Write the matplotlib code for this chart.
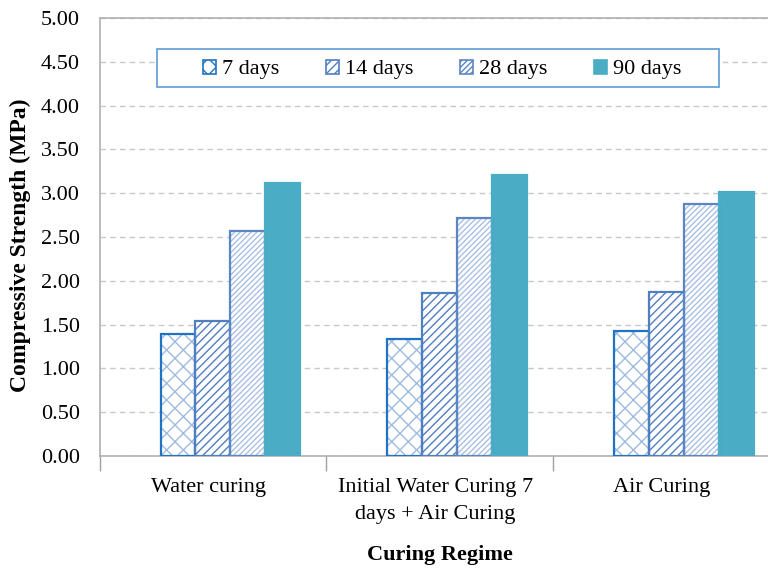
import matplotlib
matplotlib.use("Agg")
import matplotlib.pyplot as plt
from matplotlib.patches import Patch, Rectangle
import numpy as np

# curing regimes and strength at each age (MPa)
regimes = ["Water curing", "Initial Water Curing 7\ndays + Air Curing", "Air Curing"]
ages = ["7 days", "14 days", "28 days", "90 days"]
s7 = [1.39, 1.34, 1.43]
s14 = [1.54, 1.86, 1.87]
s28 = [2.57, 2.72, 2.88]
s90 = [3.12, 3.21, 3.01]
yticks = [0.0, 0.5, 1.0, 1.5, 2.0, 2.5, 3.0, 3.5, 4.0, 4.5, 5.0]

plt.rcParams['font.family'] = ['Liberation Serif', 'DejaVu Serif']
plt.rcParams['hatch.linewidth'] = 1.0

W, H = 768, 572
fig = plt.figure(figsize=(W / 100, H / 100), dpi=100)
# plot area runs past the right edge of the picture like the original
ax = fig.add_axes([99.5 / W, (H - 456) / H, (780 - 99.5) / W, (456 - 18) / H])

x = np.arange(len(regimes))
w = 0.154
# (values, offset, face, hatch, hatch colour, outline colour)
series = [
    (s7, -1, "white", "xx", "#9DBBE3", "#1F73C2"),
    (s14, 0, "white", "////", "#4F7FC0", "#4F7FC0"),
    (s28, 1, "white", "//////", "#A9C0E3", "#5B86C3"),
    (s90, 2, "#4BACC6", None, "#4BACC6", "#4BACC6"),
]
handles = []
for (vals, off, face, hatch, hcol, ecol), lab in zip(series, ages):
    ax.bar(x + off * w, vals, w, color=face, hatch=hatch, edgecolor=hcol,
           linewidth=0, zorder=3)
    ax.bar(x + off * w, vals, w, fill=False, edgecolor=ecol, linewidth=1.6, zorder=4)
    handles.append(Patch(facecolor=face, hatch=hatch, edgecolor=ecol, linewidth=1.2, label=lab))

ax.set_ylim(0, 5)
ax.set_xlim(-0.5, 2.5)
ax.set_yticks(yticks)
ax.set_yticklabels([f"{v:.2f}" for v in yticks], fontsize=16)
ax.yaxis.grid(True, linestyle=(0, (4, 3)), color="#C8C8C8", linewidth=1)
ax.set_axisbelow(True)
ax.tick_params(axis="y", length=0, pad=14)

ax.set_xticks([-0.5, 0.5, 1.5, 2.5])
ax.set_xticklabels([])
ax.set_xticks(x - 0.02, minor=True)
ax.set_xticklabels(regimes, minor=True, fontsize=16, linespacing=1.55, va="top")
ax.tick_params(axis="x", which="major", length=11, color="#A0A0A0", width=1)
ax.tick_params(axis="x", which="minor", length=0, pad=16)

for s in ["left", "bottom", "top"]:
    ax.spines[s].set_color("#B0B0B0")
    ax.spines[s].set_linewidth(1.2)
ax.spines["right"].set_visible(False)

fig.text(20 / W, 1 - 245 / H, "Compressive Strength (MPa)", rotation=90,
         fontsize=17, fontweight="bold", ha="center", va="center")
fig.text(440 / W, 1 - 555 / H, "Curing Regime", fontsize=16, fontweight="bold",
         ha="center", va="center")

# legend box drawn separately, it is wider than its entries
box = Rectangle((157 / W, 1 - 87 / H), (719 - 157) / W, (87 - 49) / H,
                transform=fig.transFigure, facecolor="white",
                edgecolor="#5B9BD5", linewidth=1.2, zorder=5)
fig.patches.append(box)
leg = fig.legend(handles=handles, loc="center", bbox_to_anchor=(442 / W, 1 - 69.5 / H),
                 bbox_transform=fig.transFigure, ncol=4, fontsize=16, frameon=False,
                 handlelength=0.6, handleheight=0.6, handletextpad=0.25,
                 columnspacing=2.1, borderpad=0, borderaxespad=0)
leg.set_zorder(6)

fig.savefig("out.png", dpi=100)
